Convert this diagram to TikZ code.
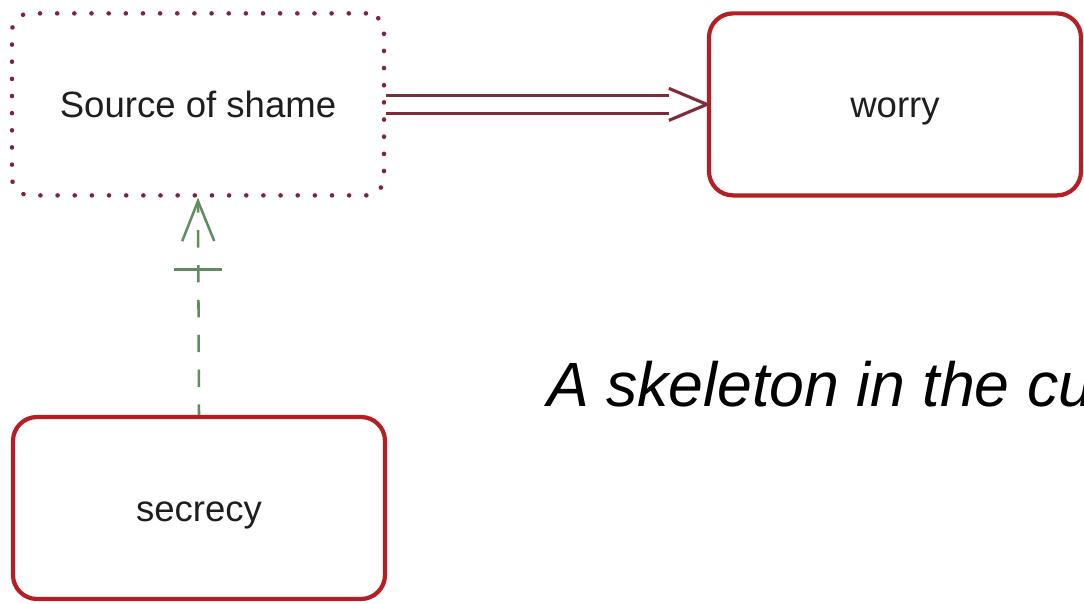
\documentclass[tikz,border=0pt]{standalone}
\usepackage{fontspec}
\setmainfont{Liberation Sans}
\usetikzlibrary{arrows.meta}

\definecolor{boxred}{RGB}{182,30,36}
\definecolor{dotred}{RGB}{128,36,58}
\definecolor{linkred}{RGB}{128,44,56}
\definecolor{linkgreen}{RGB}{96,140,96}
\definecolor{labelgray}{RGB}{30,30,30}

\tikzset{
    statebox/.style={draw=boxred, line width=3pt, rounded corners=0.6cm,
        minimum width=9.3cm, minimum height=4.55cm, text=labelgray,
        text height=18.6pt, text depth=0pt,
        font=\fontsize{26}{30}\selectfont},
    shamebox/.style={statebox, draw=dotred, line width=3.2pt, line cap=round,
        dash pattern=on 0.1pt off 12.1pt, rounded corners=0.45cm},
    flowline/.style={draw=linkred, line width=2.6pt, double=white, double distance=10.2pt},
    flowhead/.style={draw=linkred, line width=2.2pt},
    supportline/.style={draw=linkgreen, line width=1.8pt,
        dash pattern=on 12.4pt off 12.4pt, dash phase=5pt,
        -{Straight Barb[length=1cm, width=0.8cm, line width=1.8pt]}},
}

\begin{document}
\begin{tikzpicture}
        \clip (0,0) rectangle (27.1,15.1);

        \node[shamebox] (shame) at (4.95,12.49) {Source of shame};
        \node[statebox] (worry) at (22.375,12.49) {worry};
        \node[statebox] (secrecy) at (4.975,2.4) {secrecy};

        % hollow arrow from the source to the worry
        \coordinate (headbase) at ([xshift=-0.95cm]worry.west);
        \draw[flowline] (shame.east) -- (headbase);
        \draw[flowhead] ([yshift=0.4cm]headbase) -- (worry.west) -- ([yshift=-0.4cm]headbase);

        % dashed link up from the secrecy
        \draw[supportline] (secrecy.north) -- (shame.south);
        \draw[draw=linkgreen, line width=1.8pt] ([xshift=-0.6cm,yshift=-1.8cm]shame.south) -- ([xshift=0.6cm,yshift=-1.8cm]shame.south);

        \node[anchor=base west, inner sep=0pt, text=black, font=\fontsize{44.5}{54}\selectfont\itshape] (title) at (13.675,4.925) {A skeleton in the cupboard};

\end{tikzpicture}
\end{document}
